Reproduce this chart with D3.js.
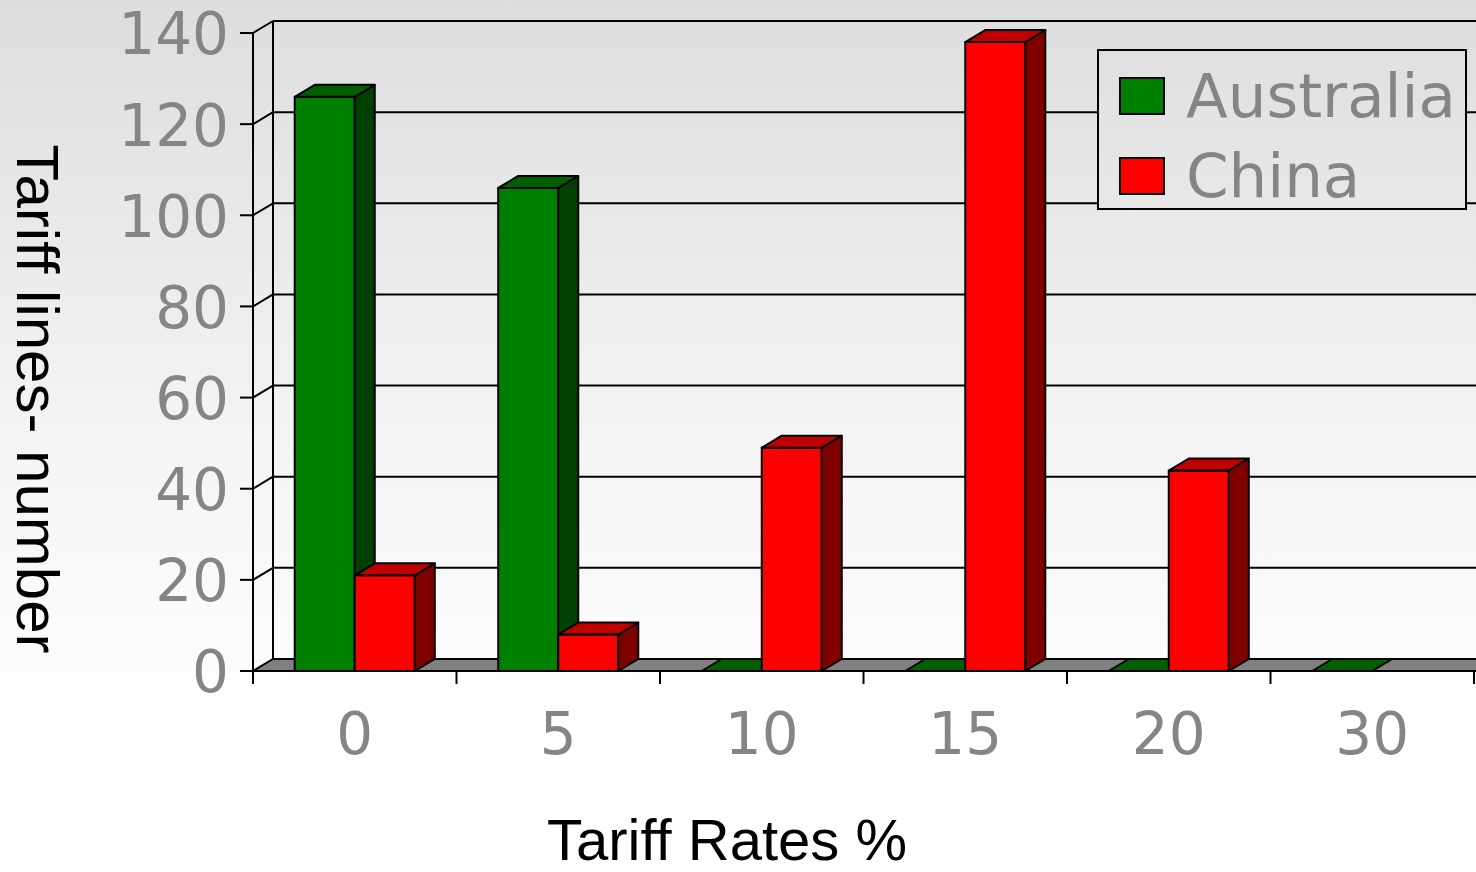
<!DOCTYPE html>
<html lang="en">
<head>
  <meta charset="UTF-8" />
  <title>Tariff lines by rate</title>
  <script src="https://d3js.org/d3.v7.min.js"></script>
  <style>
    body { margin: 0; overflow: hidden; }
    svg { display: block; }
    .tick-label { font-family: "DejaVu Sans", Verdana, sans-serif; font-size: 58px; fill: #858585; }
    .title { font-family: "Liberation Sans", Arial, sans-serif; font-size: 60px; fill: #000; }
  </style>
</head>
<body>
  <svg width="1476" height="872"></svg>
  <script>
    // data
    const categories = ["0", "5", "10", "15", "20", "30"];
    const seriesNames = ["Australia", "China"];
    const australia = [126, 106, 0, 0, 0, 0];
    const china = [21, 8, 49, 138, 44, null];
    const yTicks = [0, 20, 40, 60, 80, 100, 120, 140];

    const colors = {
      Australia: { front: "#008000", top: "#006000", side: "#004000" },
      China: { front: "#ff0000", top: "#c00000", side: "#800000" }
    };

    const W = 1476, H = 872;
    const left = 253, right = 1474, floorY = 671;
    const dx = 20, dy = 12;   // depth offset of the 3d walls

    const svg = d3.select("svg");

    // page background gradient
    const defs = svg.append("defs");
    const grad = defs.append("linearGradient")
      .attr("id", "bg")
      .attr("gradientUnits", "userSpaceOnUse")
      .attr("x1", 0).attr("y1", 0).attr("x2", 0).attr("y2", H);
    grad.append("stop").attr("offset", "0").attr("stop-color", "#dddddd");
    grad.append("stop").attr("offset", "0.5").attr("stop-color", "#f4f4f4");
    grad.append("stop").attr("offset", "0.85").attr("stop-color", "#ffffff");
    svg.append("rect").attr("width", W).attr("height", H).attr("fill", "url(#bg)");

    const x0 = d3.scaleBand().domain(categories).range([left, right]);
    const x1 = d3.scaleBand().domain(seriesNames)
      .range([x0.bandwidth() * 0.205, x0.bandwidth() * 0.795]);
    const y = d3.scaleLinear().domain([0, 140]).range([floorY, 33]);

    const walls = svg.append("g").attr("stroke", "#000").attr("stroke-width", 2).attr("fill", "none");

    // back wall gridlines
    walls.selectAll(".grid")
      .data(yTicks.filter(d => d > 0))
      .join("line")
      .attr("x1", left + dx).attr("x2", W + 5)
      .attr("y1", d => y(d) - dy).attr("y2", d => y(d) - dy);

    // side wall diagonals
    walls.selectAll(".diag")
      .data(yTicks.filter(d => d > 0))
      .join("line")
      .attr("x1", left).attr("y1", d => y(d))
      .attr("x2", left + dx).attr("y2", d => y(d) - dy);

    // back wall left edge
    walls.append("line")
      .attr("x1", left + dx).attr("x2", left + dx)
      .attr("y1", y(140) - dy).attr("y2", floorY - dy);

    // floor
    svg.append("path")
      .attr("d", d3.line()([[left, floorY], [W + 20, floorY], [W + 20 + dx, floorY - dy], [left + dx, floorY - dy]]) + "Z")
      .attr("fill", "#808080").attr("stroke", "#000").attr("stroke-width", 2);

    // front y axis
    const yAxis = svg.append("g");
    yAxis.append("line")
      .attr("x1", left).attr("x2", left)
      .attr("y1", y(140)).attr("y2", floorY)
      .attr("stroke", "#000").attr("stroke-width", 2);
    yAxis.selectAll(".ytick")
      .data(yTicks)
      .join("line")
      .attr("x1", left - 13).attr("x2", left)
      .attr("y1", d => y(d)).attr("y2", d => y(d))
      .attr("stroke", "#000").attr("stroke-width", 2);
    yAxis.selectAll(".ylab")
      .data(yTicks)
      .join("text")
      .attr("class", "tick-label")
      .attr("x", 229).attr("y", d => y(d))
      .attr("dy", "0.37em")
      .attr("text-anchor", "end")
      .text(d => d);

    // x axis ticks and labels
    const xAxis = svg.append("g");
    const bounds = categories.map(c => x0(c)).concat([right]);
    xAxis.selectAll(".xtick")
      .data(bounds)
      .join("line")
      .attr("x1", d => d).attr("x2", d => d)
      .attr("y1", floorY).attr("y2", floorY + 13)
      .attr("stroke", "#000").attr("stroke-width", 2);
    xAxis.selectAll(".xlab")
      .data(categories)
      .join("text")
      .attr("class", "tick-label")
      .attr("x", d => x0(d) + x0.bandwidth() / 2)
      .attr("y", 754)
      .attr("text-anchor", "middle")
      .text(d => d);

    // bars, drawn left to right so later ones cover earlier side faces
    const bars = [];
    categories.forEach((c, i) => {
      bars.push({ cat: c, name: "Australia", value: australia[i] });
      bars.push({ cat: c, name: "China", value: china[i] });
    });

    const barG = svg.append("g").attr("stroke", "#000").attr("stroke-width", 2).attr("stroke-linejoin", "round");
    const poly = pts => d3.line()(pts) + "Z";

    bars.filter(b => b.value !== null).forEach(b => {
      const bx = x0(b.cat) + x1(b.name);
      const bw = x1.bandwidth();
      const top = y(b.value);
      const col = colors[b.name];
      const g = barG.append("g");
      if (b.value > 0) {
        g.append("rect")
          .attr("x", bx).attr("y", top)
          .attr("width", bw).attr("height", floorY - top)
          .attr("fill", col.front);
        g.append("path")
          .attr("d", poly([[bx + bw, top], [bx + bw + dx, top - dy], [bx + bw + dx, floorY - dy], [bx + bw, floorY]]))
          .attr("fill", col.side);
      }
      g.append("path")
        .attr("d", poly([[bx, top], [bx + bw, top], [bx + bw + dx, top - dy], [bx + dx, top - dy]]))
        .attr("fill", col.top);
    });

    // legend
    const legend = svg.append("g");
    legend.append("rect")
      .attr("x", 1098).attr("y", 50)
      .attr("width", 368).attr("height", 159)
      .attr("fill", "url(#bg)")
      .attr("stroke", "#000").attr("stroke-width", 2);
    seriesNames.forEach((name, i) => {
      legend.append("rect")
        .attr("x", 1120).attr("y", 78 + i * 80)
        .attr("width", 44).attr("height", 36)
        .attr("fill", colors[name].front)
        .attr("stroke", "#000").attr("stroke-width", 2);
      legend.append("text")
        .attr("class", "tick-label")
        .attr("x", 1186).attr("y", 117 + i * 80)
        .style("font-size", "61px")
        .text(name);
    });

    // axis titles
    svg.append("text")
      .attr("class", "title")
      .attr("transform", "translate(17,399) rotate(90)")
      .attr("text-anchor", "middle")
      .text("Tariff lines- number");
    svg.append("text")
      .attr("class", "title")
      .attr("x", 727).attr("y", 860)
      .attr("text-anchor", "middle")
      .style("font-size", "58px")
      .text("Tariff Rates %");
  </script>
</body>
</html>
